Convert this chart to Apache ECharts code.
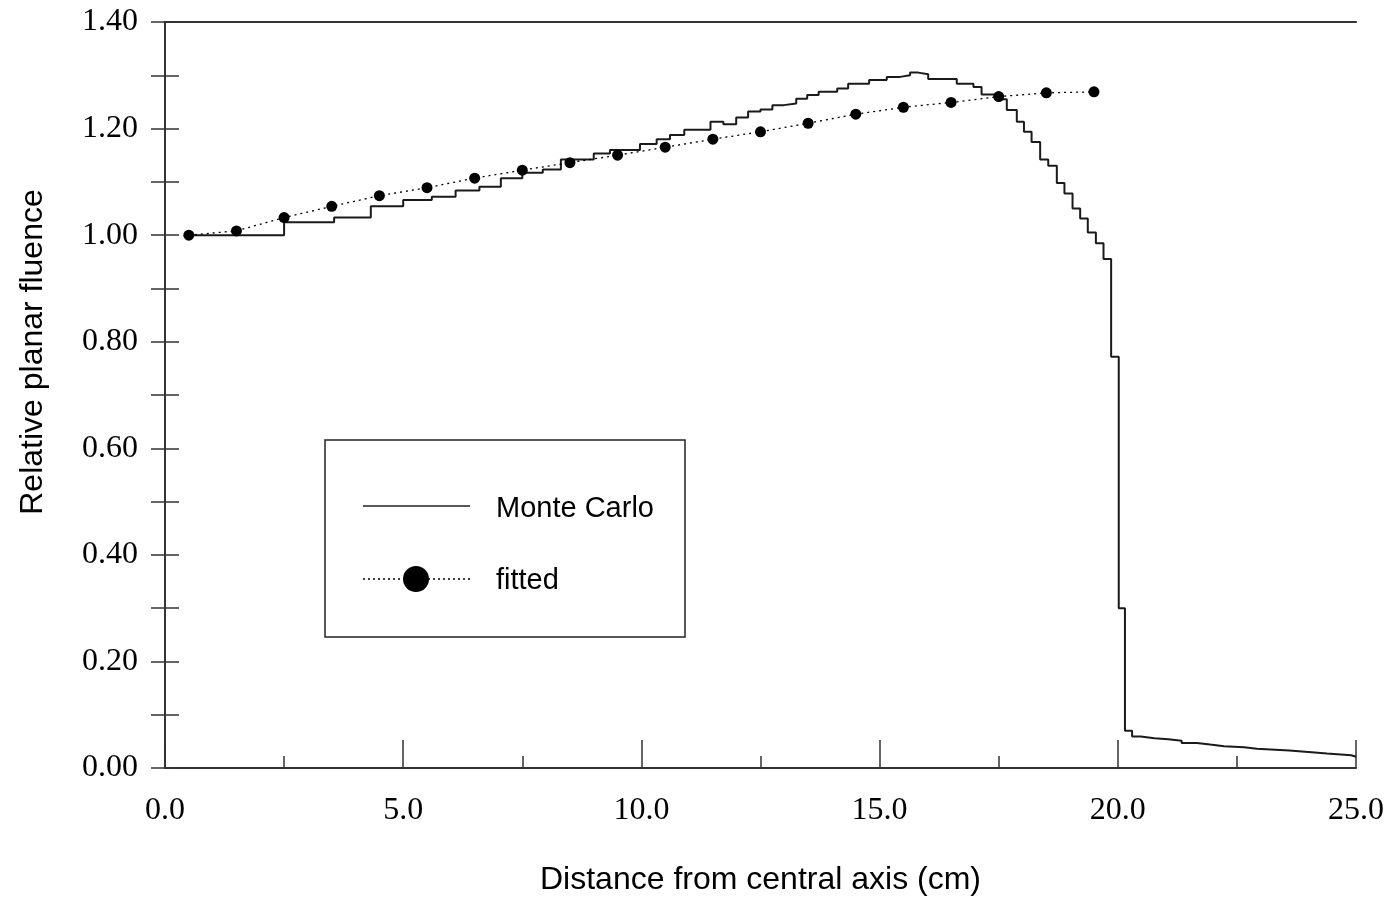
<!DOCTYPE html>
<html>
<head>
<meta charset="utf-8">
<script src="https://cdn.jsdelivr.net/npm/echarts@6/dist/echarts.min.js"></script>
<style>html,body{margin:0;padding:0;background:#fff;}#c{width:1391px;height:899px;}</style>
</head>
<body>
<div id="c"></div>
<script>
// Monte Carlo step curve: start of each step and its level
const mcX = [0.4, 2.5, 3.55, 4.32, 5.0, 5.6, 6.1, 6.6, 7.05, 7.5, 7.93, 8.31, 9.0, 9.34, 9.97, 10.32, 10.6, 10.9, 11.45, 11.72, 11.99, 12.24, 12.5, 12.75, 12.99, 13.25, 13.48, 13.72, 14.11, 14.34, 14.78, 15.15, 15.43, 15.64, 15.81, 16.02, 16.62, 16.97, 17.14, 17.48, 17.67, 17.88, 18.03, 18.19, 18.37, 18.54, 18.72, 18.88, 19.05, 19.21, 19.37, 19.54, 19.70, 19.86, 20.02, 20.15, 20.30, 20.48, 20.77, 21.06, 21.34, 21.66, 21.94, 22.23, 22.65, 22.92, 23.6, 24.0, 24.39, 24.9, 25.0];
const mcY = [1.000, 1.024, 1.033, 1.054, 1.066, 1.072, 1.084, 1.091, 1.107, 1.117, 1.123, 1.142, 1.153, 1.160, 1.171, 1.180, 1.188, 1.198, 1.213, 1.208, 1.221, 1.232, 1.236, 1.244, 1.247, 1.256, 1.263, 1.269, 1.275, 1.284, 1.291, 1.297, 1.300, 1.305, 1.302, 1.293, 1.284, 1.278, 1.264, 1.255, 1.235, 1.213, 1.194, 1.175, 1.142, 1.130, 1.098, 1.078, 1.050, 1.031, 1.005, 0.985, 0.955, 0.772, 0.300, 0.070, 0.059, 0.056, 0.054, 0.051, 0.047, 0.044, 0.041, 0.039, 0.036, 0.033, 0.030, 0.027, 0.024, 0.021, 0.021];
// fitted points
const fitX = [0.5, 1.5, 2.5, 3.5, 4.5, 5.5, 6.5, 7.5, 8.5, 9.5, 10.5, 11.5, 12.5, 13.5, 14.5, 15.5, 16.5, 17.5, 18.5, 19.5];
const fitY = [1.000, 1.008, 1.033, 1.054, 1.074, 1.089, 1.107, 1.122, 1.136, 1.150, 1.165, 1.180, 1.194, 1.210, 1.227, 1.240, 1.249, 1.260, 1.267, 1.269];
const seriesNames = ['Monte Carlo', 'fitted'];
const xTitle = 'Distance from central axis (cm)';
const yTitle = 'Relative planar fluence';

const chart = echarts.init(document.getElementById('c'));
const axisColor = '#333';
const serif = 'Liberation Serif';
const sans = 'Liberation Sans';
const L = 165, T = 22, R = 1356, B = 768;

const yAxisCommon = {
  type: 'value', min: 0, max: 1.4, interval: 0.2,
  axisLine: {show: true, lineStyle: {color: axisColor, width: 2}},
  axisTick: {show: true, inside: true, length: 14, lineStyle: {color: axisColor, width: 1.5}},
  minorTick: {show: true, splitNumber: 2, length: 14, lineStyle: {color: axisColor, width: 1.5}},
  splitLine: {show: false}
};

chart.setOption({
  animation: false,
  backgroundColor: '#fff',
  grid: {left: L, top: T, right: 1391 - R, bottom: 899 - B, show: false, containLabel: false, outerBoundsMode: 'none'},
  xAxis: [{
    type: 'value', min: 0, max: 25, interval: 5,
    axisLine: {show: true, onZero: false, lineStyle: {color: axisColor, width: 2}},
    axisTick: {show: true, inside: true, length: 28, lineStyle: {color: axisColor, width: 1.5}},
    minorTick: {show: true, splitNumber: 2, length: 12, lineStyle: {color: axisColor, width: 1.5}},
    splitLine: {show: false},
    axisLabel: {margin: 27, fontFamily: serif, fontSize: 32, color: '#000', formatter: v => v.toFixed(1)},
    name: xTitle, nameLocation: 'middle', nameGap: 96,
    nameTextStyle: {fontFamily: sans, fontSize: 32, color: '#000'}
  }, {
    type: 'value', position: 'top', min: 0, max: 25,
    axisLine: {show: true, onZero: false, lineStyle: {color: axisColor, width: 2}},
    axisTick: {show: false}, axisLabel: {show: false}, splitLine: {show: false}
  }],
  yAxis: [Object.assign({}, yAxisCommon, {
    position: 'left',
    axisLabel: {margin: 27, fontFamily: serif, fontSize: 32, color: '#000', formatter: v => v.toFixed(2)}
  }), Object.assign({}, yAxisCommon, {
    position: 'right',
    axisLabel: {show: false}
  })],
  series: [{
    name: seriesNames[0], type: 'line', step: 'end',
    data: mcX.map((x, i) => [x, mcY[i]]),
    showSymbol: false, symbol: 'none',
    lineStyle: {color: '#1a1a1a', width: 2}
  }, {
    name: seriesNames[1], type: 'line',
    data: fitX.map((x, i) => [x, fitY[i]]),
    symbol: 'circle', symbolSize: 11,
    itemStyle: {color: '#000'},
    lineStyle: {color: '#000', width: 1.3, type: [2, 4]}
  }],
  graphic: [
    {type: 'text', x: 33, y: 352, rotation: Math.PI / 2,
     style: {text: yTitle, fontFamily: sans, fontSize: 32, fill: '#000', textAlign: 'center', textVerticalAlign: 'middle'}},
    {type: 'rect', shape: {x: 325, y: 440, width: 360, height: 197},
     style: {fill: '#fff', stroke: '#222', lineWidth: 1.5}, z: 10},
    {type: 'line', shape: {x1: 363, y1: 506, x2: 470, y2: 506},
     style: {stroke: '#222', lineWidth: 1.5}, z: 11},
    {type: 'text', x: 496, y: 509,
     style: {text: seriesNames[0], fontFamily: sans, fontSize: 29, fill: '#000', textVerticalAlign: 'middle'}, z: 11},
    {type: 'line', shape: {x1: 363, y1: 579, x2: 470, y2: 579},
     style: {stroke: '#000', lineWidth: 1.3, lineDash: [2, 3]}, z: 11},
    {type: 'circle', shape: {cx: 416, cy: 579, r: 13},
     style: {fill: '#000'}, z: 12},
    {type: 'text', x: 496, y: 581,
     style: {text: seriesNames[1], fontFamily: sans, fontSize: 29, fill: '#000', textVerticalAlign: 'middle'}, z: 11}
  ]
});
</script>
</body>
</html>
